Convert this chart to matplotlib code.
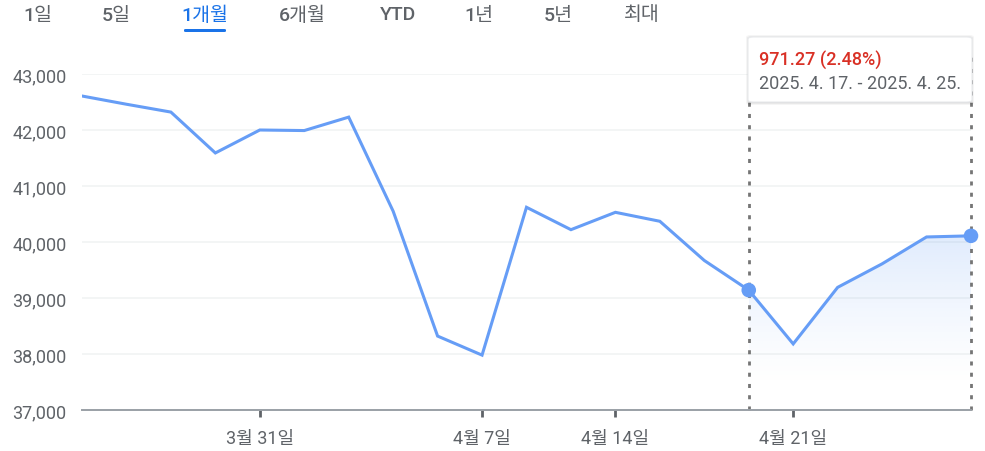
import numpy as np
import matplotlib.pyplot as plt
from matplotlib.patches import FancyBboxPatch, Polygon

plt.rcParams['font.family'] = ['Roboto', 'Noto Sans CJK KR', 'DejaVu Sans']

# data (one point per plotted session)
dates = ['3/25', '3/26', '3/27', '3/28', '3/31', '4/1', '4/2', '4/3', '4/4', '4/7',
         '4/9', '4/11', '4/14', '4/15', '4/16', '4/17', '4/21', '4/22', '4/23', '4/24', '4/25']
values = [42607, 42460, 42320, 41590, 42000, 41990, 42230, 40550, 38320, 37980,
          40620, 40220, 40530, 40370, 39670, 39140, 38180, 39190, 39610, 40090, 40110]
tick_idx = [4, 9, 12, 16]
tick_labels = ['3월 31일', '4월 7일', '4월 14일', '4월 21일']
y_ticks = [37000, 38000, 39000, 40000, 41000, 42000, 43000]
tabs = ['1일', '5일', '1개월', '6개월', 'YTD', '1년', '5년', '최대']
tab_x = [38, 116, 205, 302, 398, 479, 558, 642]
sel_start, sel_end = 15, 20
change_text = '971.27 (2.48%)'
range_text = '2025. 4. 17. - 2025. 4. 25.'

W, H = 985, 452
blue = '#669df6'
gray_txt = '#5f6368'

fig = plt.figure(figsize=(W / 100, H / 100), dpi=100)
ax = fig.add_axes([82 / W, (H - 411) / H, (971 - 82) / W, (411 - 75) / H])

x = np.arange(len(values))
ax.plot(x, values, color=blue, lw=2.2, zorder=3, solid_joinstyle='miter')

# gradient fill under selected range
xs = x[sel_start:sel_end + 1]
ys = np.array(values[sel_start:sel_end + 1])
verts = [(xs[0], 37000)] + list(zip(xs, ys)) + [(xs[-1], 37000)]
poly = Polygon(verts, closed=True, facecolor='none', edgecolor='none')
ax.add_patch(poly)
grad = np.zeros((200, 2, 4))
grad[..., 0] = 0.40
grad[..., 1] = 0.62
grad[..., 2] = 0.96
a = np.linspace(0.0, 1.0, 200) ** 1.3 * 0.2
grad[..., 3] = a[:, None]
top = ys.max()
im = ax.imshow(grad, extent=[xs[0], xs[-1], 37400, top], origin='lower',
               aspect='auto', zorder=1, interpolation='bilinear')
im.set_clip_path(poly)

for i in (sel_start, sel_end):
    ax.plot([i, i], [37000, 43300], color='#757575', lw=2.0,
            ls=(0, (1.45, 2.6)), zorder=2, clip_on=False)
ax.scatter([sel_start, sel_end], [values[sel_start], values[sel_end]],
           s=110, color=blue, zorder=4, clip_on=False, edgecolors='none')

ax.set_xlim(0, len(values) - 1)
ax.set_ylim(37000, 43000)
ax.set_yticks(y_ticks)
ax.set_yticklabels([f'{v:,}' for v in y_ticks])
ax.set_xticks(tick_idx)
ax.set_xticklabels(tick_labels)
for v in y_ticks[1:]:
    ax.axhline(v, color='#f1f3f4', lw=1.2, zorder=0)
for s in ['top', 'right', 'left']:
    ax.spines[s].set_visible(False)
ax.spines['bottom'].set_color('#9aa0a6')
ax.spines['bottom'].set_linewidth(1.4)
ax.tick_params(axis='y', length=0, pad=11, labelsize=13, labelcolor=gray_txt)
ax.tick_params(axis='x', length=5, width=2, color='#5f6368', pad=9,
               labelsize=13, labelcolor=gray_txt)

# tabs
for t, tx in zip(tabs, tab_x):
    sel = t == '1개월'
    fig.text(tx / W, 1 - 15.5 / H, t, ha='center', va='center', fontsize=14,
             fontweight='medium', color='#1a73e8' if sel else gray_txt)
fig.patches.append(FancyBboxPatch((184 / W, 1 - 33 / H), 42 / W, 3 / H,
                                  boxstyle='round,pad=0,rounding_size=0.002',
                                  transform=fig.transFigure, facecolor='#1a73e8',
                                  edgecolor='none'))

# tooltip
bx0, by0, bw, bh = 748, 38, 224, 65
for k, al in enumerate([0.06, 0.05, 0.04]):
    fig.patches.append(FancyBboxPatch(((bx0 - k) / W, 1 - (by0 + bh + 1 + k) / H),
                                      (bw + 2 * k) / W, (bh + 1 + 2 * k) / H,
                                      boxstyle='round,pad=0,rounding_size=0.005',
                                      transform=fig.transFigure, facecolor='black',
                                      alpha=al, edgecolor='none', zorder=10))
fig.patches.append(FancyBboxPatch((bx0 / W, 1 - (by0 + bh) / H), bw / W, bh / H,
                                  boxstyle='round,pad=0,rounding_size=0.005',
                                  transform=fig.transFigure, facecolor='white',
                                  edgecolor='#e8eaed', lw=0.8, zorder=11))
fig.text(759 / W, 1 - 60 / H, change_text, ha='left', va='center', fontsize=13,
         fontweight='medium', color='#d93025', zorder=12)
fig.text(759 / W, 1 - 84 / H, range_text, ha='left', va='center', fontsize=13,
         color=gray_txt, zorder=12)

fig.savefig('out.png', dpi=100)
